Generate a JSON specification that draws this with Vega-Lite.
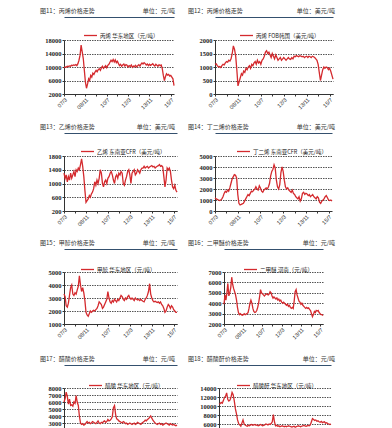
{
"$schema": "https://vega.github.io/schema/vega-lite/v6.json",
"padding": {"left": 40, "top": 8, "right": 0, "bottom": 0},
"background": "white",
"data": {"values": [
{"t":"2007-03-01","a":9800,"b":1100,"c":1300,"d":1200,"e":3300,"f":3900,"g":6000,"h":10400},
{"t":"2007-04-01","a":10000,"b":1120,"c":1150,"d":1100,"e":3100,"f":4800,"g":6500,"h":10500},
{"t":"2007-05-01","a":9900,"b":1050,"c":1250,"d":1050,"e":2400,"f":4300,"g":7400,"h":10800},
{"t":"2007-06-01","a":10200,"b":1000,"c":1050,"d":1000,"e":2300,"f":5000,"g":6800,"h":10600},
{"t":"2007-07-01","a":10100,"b":1020,"c":1200,"d":950,"e":2600,"f":5900,"g":5700,"h":11200},
{"t":"2007-08-01","a":10300,"b":980,"c":1100,"d":1000,"e":3200,"f":4700,"g":6400,"h":11900},
{"t":"2007-09-01","a":10200,"b":1050,"c":1300,"d":1100,"e":3800,"f":5000,"g":5500,"h":12200},
{"t":"2007-10-01","a":10500,"b":1100,"c":1150,"d":1300,"e":4000,"f":5500,"g":5600,"h":12900},
{"t":"2007-11-01","a":10400,"b":1080,"c":1250,"d":1600,"e":3300,"f":6500,"g":5400,"h":11500},
{"t":"2007-12-01","a":10600,"b":1150,"c":1350,"d":1800,"e":3200,"f":5800,"g":6000,"h":11100},
{"t":"2008-01-01","a":10500,"b":1200,"c":1200,"d":1700,"e":3400,"f":5400,"g":5800,"h":11300},
{"t":"2008-02-01","a":10700,"b":1180,"c":1400,"d":1900,"e":3300,"f":5100,"g":6900,"h":12000},
{"t":"2008-03-01","a":10400,"b":1250,"c":1350,"d":1800,"e":3600,"f":4800,"g":6000,"h":13000},
{"t":"2008-04-01","a":11000,"b":1220,"c":1450,"d":2100,"e":3900,"f":4300,"g":5500,"h":12500},
{"t":"2008-05-01","a":12000,"b":1300,"c":1400,"d":2500,"e":4700,"f":3600,"g":4000,"h":11200},
{"t":"2008-06-01","a":13500,"b":1500,"c":1550,"d":2900,"e":4000,"f":3100,"g":3000,"h":9400},
{"t":"2008-07-01","a":16500,"b":1780,"c":1720,"d":3100,"e":3500,"f":2900,"g":2800,"h":8300},
{"t":"2008-08-01","a":14500,"b":1650,"c":1500,"d":3300,"e":3800,"f":3000,"g":2900,"h":6900},
{"t":"2008-09-01","a":12500,"b":1400,"c":1200,"d":3250,"e":3400,"f":2900,"g":2700,"h":6100},
{"t":"2008-10-01","a":9000,"b":900,"c":800,"d":3000,"e":2800,"f":2850,"g":2800,"h":5800},
{"t":"2008-11-01","a":5500,"b":300,"c":450,"d":1500,"e":1900,"f":2900,"g":3000,"h":5500},
{"t":"2008-12-01","a":3700,"b":450,"c":500,"d":700,"e":1700,"f":3000,"g":3200,"h":6200},
{"t":"2009-01-01","a":5000,"b":600,"c":550,"d":550,"e":1600,"f":2900,"g":3000,"h":6900},
{"t":"2009-02-01","a":6500,"b":750,"c":650,"d":600,"e":1800,"f":2950,"g":3100,"h":6000},
{"t":"2009-03-01","a":6000,"b":700,"c":600,"d":650,"e":2000,"f":3000,"g":2900,"h":5800},
{"t":"2009-04-01","a":7500,"b":850,"c":700,"d":700,"e":1900,"f":3100,"g":3000,"h":5600},
{"t":"2009-05-01","a":7000,"b":800,"c":750,"d":900,"e":2000,"f":3500,"g":3200,"h":5500},
{"t":"2009-06-01","a":8200,"b":950,"c":850,"d":1100,"e":2050,"f":4000,"g":3100,"h":5700},
{"t":"2009-07-01","a":7800,"b":900,"c":1050,"d":1300,"e":2000,"f":4300,"g":3000,"h":5600},
{"t":"2009-08-01","a":8500,"b":1000,"c":950,"d":1500,"e":2100,"f":4000,"g":2900,"h":5800},
{"t":"2009-09-01","a":9000,"b":1050,"c":1100,"d":1400,"e":2200,"f":3500,"g":3100,"h":5900},
{"t":"2009-10-01","a":8600,"b":950,"c":1000,"d":1600,"e":2400,"f":3200,"g":3300,"h":5700},
{"t":"2009-11-01","a":9200,"b":1100,"c":1150,"d":1800,"e":2700,"f":3100,"g":3000,"h":5800},
{"t":"2009-12-01","a":9500,"b":1050,"c":1400,"d":1750,"e":2600,"f":3150,"g":2900,"h":5900},
{"t":"2010-01-01","a":9000,"b":1150,"c":1300,"d":1900,"e":2500,"f":3300,"g":3100,"h":5700},
{"t":"2010-02-01","a":9800,"b":1200,"c":1000,"d":2000,"e":2200,"f":3600,"g":3000,"h":5800},
{"t":"2010-03-01","a":10200,"b":1100,"c":900,"d":2200,"e":2300,"f":4000,"g":3200,"h":5600},
{"t":"2010-04-01","a":9600,"b":1250,"c":1050,"d":2000,"e":2500,"f":4600,"g":3300,"h":5700},
{"t":"2010-05-01","a":10000,"b":1150,"c":1100,"d":1900,"e":2700,"f":5300,"g":3100,"h":5900},
{"t":"2010-06-01","a":10400,"b":1200,"c":1000,"d":2300,"e":2900,"f":5000,"g":3200,"h":5800},
{"t":"2010-07-01","a":9800,"b":1100,"c":1150,"d":2100,"e":3500,"f":4900,"g":3500,"h":5600},
{"t":"2010-08-01","a":10500,"b":1250,"c":1200,"d":1800,"e":3000,"f":4800,"g":3300,"h":5700},
{"t":"2010-09-01","a":10800,"b":1300,"c":1300,"d":1700,"e":2700,"f":4700,"g":3400,"h":5800},
{"t":"2010-10-01","a":11400,"b":1400,"c":1350,"d":1900,"e":2600,"f":4800,"g":3600,"h":6000},
{"t":"2010-11-01","a":12000,"b":1550,"c":1250,"d":2000,"e":2800,"f":4900,"g":3900,"h":5900},
{"t":"2010-12-01","a":11600,"b":1600,"c":1100,"d":2100,"e":2700,"f":4850,"g":5200,"h":5800},
{"t":"2011-01-01","a":12200,"b":1500,"c":1000,"d":2000,"e":2900,"f":4800,"g":5500,"h":6000},
{"t":"2011-02-01","a":11500,"b":1550,"c":1200,"d":2200,"e":2800,"f":4900,"g":4200,"h":5900},
{"t":"2011-03-01","a":12100,"b":1450,"c":1250,"d":2500,"e":2700,"f":5100,"g":3600,"h":6100},
{"t":"2011-04-01","a":11300,"b":1350,"c":1150,"d":3200,"e":2900,"f":5000,"g":3500,"h":6500},
{"t":"2011-05-01","a":11700,"b":1500,"c":1300,"d":3600,"e":2800,"f":4700,"g":3300,"h":8100},
{"t":"2011-06-01","a":11000,"b":1400,"c":1250,"d":3800,"e":3000,"f":4500,"g":3200,"h":6500},
{"t":"2011-07-01","a":10400,"b":1300,"c":1350,"d":4200,"e":3200,"f":4600,"g":3100,"h":5600},
{"t":"2011-08-01","a":10800,"b":1450,"c":1300,"d":3900,"e":3100,"f":4500,"g":3000,"h":5700},
{"t":"2011-09-01","a":10200,"b":1350,"c":1000,"d":2800,"e":2900,"f":4400,"g":3200,"h":5500},
{"t":"2011-10-01","a":10600,"b":1250,"c":950,"d":2200,"e":2800,"f":4500,"g":3100,"h":5600},
{"t":"2011-11-01","a":10900,"b":1300,"c":1100,"d":2000,"e":3000,"f":4300,"g":2900,"h":5400},
{"t":"2011-12-01","a":10300,"b":1350,"c":1200,"d":2400,"e":2900,"f":4400,"g":3000,"h":5500},
{"t":"2012-01-01","a":10700,"b":1250,"c":1350,"d":3500,"e":3100,"f":4200,"g":2800,"h":5600},
{"t":"2012-02-01","a":10500,"b":1300,"c":1400,"d":4000,"e":3200,"f":4300,"g":2900,"h":5500},
{"t":"2012-03-01","a":10000,"b":1350,"c":1250,"d":3600,"e":3000,"f":4100,"g":3000,"h":5400},
{"t":"2012-04-01","a":10400,"b":1300,"c":1000,"d":2800,"e":2900,"f":4000,"g":2900,"h":5500},
{"t":"2012-05-01","a":10200,"b":1250,"c":1300,"d":2200,"e":3000,"f":4100,"g":2800,"h":5400},
{"t":"2012-06-01","a":10600,"b":1300,"c":1350,"d":2000,"e":2900,"f":4000,"g":2900,"h":5500},
{"t":"2012-07-01","a":9900,"b":1350,"c":1400,"d":2100,"e":2800,"f":3900,"g":3000,"h":5600},
{"t":"2012-08-01","a":10300,"b":1300,"c":1250,"d":1900,"e":3000,"f":3800,"g":2800,"h":5500},
{"t":"2012-09-01","a":10100,"b":1280,"c":1300,"d":1800,"e":2900,"f":3900,"g":2900,"h":5400},
{"t":"2012-10-01","a":10500,"b":1350,"c":1400,"d":1700,"e":2850,"f":3700,"g":3100,"h":5300},
{"t":"2012-11-01","a":10000,"b":1300,"c":1350,"d":1900,"e":2900,"f":3800,"g":3000,"h":5400},
{"t":"2012-12-01","a":10400,"b":1400,"c":1300,"d":1600,"e":2800,"f":3600,"g":2900,"h":5500},
{"t":"2013-01-01","a":10700,"b":1380,"c":1400,"d":1500,"e":2900,"f":3500,"g":2800,"h":5300},
{"t":"2013-02-01","a":10300,"b":1420,"c":1450,"d":1300,"e":2800,"f":3600,"g":3000,"h":5400},
{"t":"2013-03-01","a":10800,"b":1400,"c":1450,"d":1200,"e":2750,"f":3500,"g":3100,"h":5500},
{"t":"2013-04-01","a":11200,"b":1380,"c":1500,"d":1100,"e":2700,"f":4200,"g":3200,"h":5600},
{"t":"2013-05-01","a":10900,"b":1420,"c":1450,"d":1300,"e":2900,"f":5100,"g":3400,"h":5500},
{"t":"2013-06-01","a":11300,"b":1400,"c":1480,"d":900,"e":3000,"f":5300,"g":3300,"h":5400},
{"t":"2013-07-01","a":11000,"b":1380,"c":1500,"d":1100,"e":3200,"f":4800,"g":3500,"h":5500},
{"t":"2013-08-01","a":10600,"b":1400,"c":1450,"d":1600,"e":3500,"f":4500,"g":3600,"h":5600},
{"t":"2013-09-01","a":10900,"b":1350,"c":1480,"d":1700,"e":4100,"f":4200,"g":3800,"h":5700},
{"t":"2013-10-01","a":10400,"b":1380,"c":1500,"d":1500,"e":3300,"f":4100,"g":4000,"h":5600},
{"t":"2013-11-01","a":10800,"b":1400,"c":1520,"d":1600,"e":3000,"f":3900,"g":3700,"h":5500},
{"t":"2013-12-01","a":10500,"b":1350,"c":1480,"d":1550,"e":2800,"f":4000,"g":3400,"h":5600},
{"t":"2014-01-01","a":10700,"b":1400,"c":1500,"d":1400,"e":2700,"f":3800,"g":3200,"h":5700},
{"t":"2014-02-01","a":11000,"b":1380,"c":1450,"d":1500,"e":2750,"f":3700,"g":3000,"h":5600},
{"t":"2014-03-01","a":10600,"b":1350,"c":1480,"d":1300,"e":2700,"f":3600,"g":2900,"h":5800},
{"t":"2014-04-01","a":10300,"b":1400,"c":1500,"d":1400,"e":2650,"f":3500,"g":2800,"h":6500},
{"t":"2014-05-01","a":10800,"b":1380,"c":1520,"d":1500,"e":2700,"f":3600,"g":2900,"h":7200},
{"t":"2014-06-01","a":10500,"b":1350,"c":1550,"d":1300,"e":2600,"f":3500,"g":3000,"h":7000},
{"t":"2014-07-01","a":10200,"b":1300,"c":1500,"d":1200,"e":2700,"f":3550,"g":2800,"h":6800},
{"t":"2014-08-01","a":10700,"b":1250,"c":1520,"d":1100,"e":2500,"f":3400,"g":2900,"h":6900},
{"t":"2014-09-01","a":10400,"b":1100,"c":1480,"d":1300,"e":2400,"f":3300,"g":2700,"h":6600},
{"t":"2014-10-01","a":10600,"b":800,"c":1200,"d":1200,"e":2200,"f":3000,"g":2800,"h":6700},
{"t":"2014-11-01","a":9500,"b":500,"c":900,"d":800,"e":1900,"f":2700,"g":2900,"h":6500},
{"t":"2014-12-01","a":7500,"b":700,"c":1100,"d":700,"e":2000,"f":2900,"g":3000,"h":6400},
{"t":"2015-01-01","a":6000,"b":900,"c":1450,"d":900,"e":2300,"f":3200,"g":2900,"h":6600},
{"t":"2015-02-01","a":7200,"b":1000,"c":1400,"d":1000,"e":2500,"f":3100,"g":2800,"h":6300},
{"t":"2015-03-01","a":8000,"b":950,"c":1450,"d":1100,"e":2400,"f":3300,"g":2700,"h":6400},
{"t":"2015-04-01","a":7600,"b":1000,"c":1350,"d":1300,"e":2200,"f":3250,"g":2900,"h":6500},
{"t":"2015-05-01","a":7800,"b":980,"c":1100,"d":1400,"e":2400,"f":3300,"g":2800,"h":6200},
{"t":"2015-06-01","a":7300,"b":900,"c":900,"d":1200,"e":2300,"f":3100,"g":2700,"h":6300},
{"t":"2015-07-01","a":7500,"b":950,"c":850,"d":1000,"e":2100,"f":3000,"g":2800,"h":6100},
{"t":"2015-08-01","a":7000,"b":850,"c":950,"d":950,"e":2000,"f":2900,"g":2700,"h":6000},
{"t":"2015-09-01","a":6500,"b":700,"c":800,"d":1000,"e":1900,"f":2900,"g":2600,"h":5900},
{"t":"2015-10-01","a":4500,"b":550,"c":750,"d":900,"e":1900,"f":2800,"g":2700,"h":6000}
]},
"vconcat": [
{"hconcat": [
 {"width": 110, "height": 54,
  "title": {"text": "图11：丙烯价格走势　　　　　　　　单位：元/吨", "dx": -24},
  "layer": [
   {"mark": "line",
    "encoding": {
     "x": {"field": "t", "type": "temporal", "axis": {"values": [{"year":2007,"month":3,"date":1},{"year":2008,"month":1,"date":1},{"year":2008,"month":11,"date":1},{"year":2009,"month":9,"date":1},{"year":2010,"month":7,"date":1},{"year":2011,"month":5,"date":1},{"year":2012,"month":3,"date":1},{"year":2013,"month":1,"date":1},{"year":2013,"month":11,"date":1},{"year":2014,"month":9,"date":1},{"year":2015,"month":7,"date":1}]}},
     "y": {"field": "a", "type": "quantitative", "scale": {"domain": [2000, 18000]}, "axis": {"values": [2000, 6000, 10000, 14000, 18000]}},
     "color": {"datum": "丙烯 华东地区（元/吨）", "scale": {"range": ["#d42a2e"]}, "legend": {"orient": "none", "legendX": 19, "legendY": -12}}
    }},
   {"mark": {"type": "rule", "opacity": 0},
    "encoding": {"x": {"field": "t", "type": "temporal", "axis": {"orient": "top", "offset": 23, "labels": false, "ticks": false, "domainColor": "#34506e", "domainWidth": 1}}}}
  ],
  "resolve": {"axis": {"x": "independent"}}},
 {"width": 118, "height": 54,
  "title": {"text": "图12：丙烯价格走势　　　　　　　　　单位：美元/吨", "dx": -27},
  "layer": [
   {"mark": "line",
    "encoding": {
     "x": {"field": "t", "type": "temporal", "axis": {"values": [{"year":2007,"month":3,"date":1},{"year":2008,"month":1,"date":1},{"year":2008,"month":11,"date":1},{"year":2009,"month":9,"date":1},{"year":2010,"month":7,"date":1},{"year":2011,"month":5,"date":1},{"year":2012,"month":3,"date":1},{"year":2013,"month":1,"date":1},{"year":2013,"month":11,"date":1},{"year":2014,"month":9,"date":1},{"year":2015,"month":7,"date":1}]}},
     "y": {"field": "b", "type": "quantitative", "scale": {"domain": [0, 2000]}, "axis": {"values": [0, 500, 1000, 1500, 2000]}},
     "color": {"datum": "丙烯 FOB韩国（美元/吨）", "scale": {"range": ["#d42a2e"]}, "legend": {"orient": "none", "legendX": 24, "legendY": -12}}
    }},
   {"mark": {"type": "rule", "opacity": 0},
    "encoding": {"x": {"field": "t", "type": "temporal", "axis": {"orient": "top", "offset": 23, "labels": false, "ticks": false, "domainColor": "#34506e", "domainWidth": 1}}}}
  ],
  "resolve": {"axis": {"x": "independent"}}}
 ], "spacing": 41, "bounds": "flush", "resolve": {"scale": {"color": "independent"}, "legend": {"color": "independent"}}},
{"hconcat": [
 {"width": 113, "height": 55,
  "title": {"text": "图13：乙烯价格走势　　　　　　　单位：美元/吨", "dx": -24},
  "layer": [
   {"mark": "line",
    "encoding": {
     "x": {"field": "t", "type": "temporal", "axis": {"values": [{"year":2007,"month":3,"date":1},{"year":2008,"month":1,"date":1},{"year":2008,"month":11,"date":1},{"year":2009,"month":9,"date":1},{"year":2010,"month":7,"date":1},{"year":2011,"month":5,"date":1},{"year":2012,"month":3,"date":1},{"year":2013,"month":1,"date":1},{"year":2013,"month":11,"date":1},{"year":2014,"month":9,"date":1},{"year":2015,"month":7,"date":1}]}},
     "y": {"field": "c", "type": "quantitative", "scale": {"domain": [200, 1800]}, "axis": {"values": [200, 600, 1000, 1400, 1800]}},
     "color": {"datum": "乙烯 东南亚CFR（美元/吨）", "scale": {"range": ["#d42a2e"]}, "legend": {"orient": "none", "legendX": 16, "legendY": -12}}
    }},
   {"mark": {"type": "rule", "opacity": 0},
    "encoding": {"x": {"field": "t", "type": "temporal", "axis": {"orient": "top", "offset": 23, "labels": false, "ticks": false, "domainColor": "#34506e", "domainWidth": 1}}}}
  ],
  "resolve": {"axis": {"x": "independent"}}},
 {"width": 117, "height": 55,
  "title": {"text": "图14：丁二烯价格走势　　　　　　　　单位：美元/吨", "dx": -27},
  "layer": [
   {"mark": "line",
    "encoding": {
     "x": {"field": "t", "type": "temporal", "axis": {"values": [{"year":2007,"month":3,"date":1},{"year":2008,"month":1,"date":1},{"year":2008,"month":11,"date":1},{"year":2009,"month":9,"date":1},{"year":2010,"month":7,"date":1},{"year":2011,"month":5,"date":1},{"year":2012,"month":3,"date":1},{"year":2013,"month":1,"date":1},{"year":2013,"month":11,"date":1},{"year":2014,"month":9,"date":1},{"year":2015,"month":7,"date":1}]}},
     "y": {"field": "d", "type": "quantitative", "scale": {"domain": [0, 5000]}, "axis": {"values": [0, 1000, 2000, 3000, 4000, 5000]}},
     "color": {"datum": "丁二烯 东南亚CFR（美元/吨）", "scale": {"range": ["#d42a2e"]}, "legend": {"orient": "none", "legendX": 21, "legendY": -12}}
    }},
   {"mark": {"type": "rule", "opacity": 0},
    "encoding": {"x": {"field": "t", "type": "temporal", "axis": {"orient": "top", "offset": 23, "labels": false, "ticks": false, "domainColor": "#34506e", "domainWidth": 1}}}}
  ],
  "resolve": {"axis": {"x": "independent"}}}
 ], "spacing": 38, "bounds": "flush", "resolve": {"scale": {"color": "independent"}, "legend": {"color": "independent"}}},
{"hconcat": [
 {"width": 113, "height": 52,
  "title": {"text": "图15：甲醇价格走势　　　　　　　　单位：元/吨", "dx": -24},
  "layer": [
   {"mark": "line",
    "encoding": {
     "x": {"field": "t", "type": "temporal", "axis": {"values": [{"year":2007,"month":3,"date":1},{"year":2008,"month":1,"date":1},{"year":2008,"month":11,"date":1},{"year":2009,"month":9,"date":1},{"year":2010,"month":7,"date":1},{"year":2011,"month":5,"date":1},{"year":2012,"month":3,"date":1},{"year":2013,"month":1,"date":1},{"year":2013,"month":11,"date":1},{"year":2014,"month":9,"date":1},{"year":2015,"month":7,"date":1}]}},
     "y": {"field": "e", "type": "quantitative", "scale": {"domain": [1000, 5000]}, "axis": {"values": [1000, 2000, 3000, 4000, 5000]}},
     "color": {"datum": "甲醇 华东地区（元/吨）", "scale": {"range": ["#d42a2e"]}, "legend": {"orient": "none", "legendX": 16, "legendY": -10}}
    }},
   {"mark": {"type": "rule", "opacity": 0},
    "encoding": {"x": {"field": "t", "type": "temporal", "axis": {"orient": "top", "offset": 23, "labels": false, "ticks": false, "domainColor": "#34506e", "domainWidth": 1}}}}
  ],
  "resolve": {"axis": {"x": "independent"}}},
 {"width": 99, "height": 52,
  "title": {"text": "图16：二甲醚价格走势　　　　　　　　　单位：元/吨", "dx": -36},
  "layer": [
   {"mark": "line",
    "encoding": {
     "x": {"field": "t", "type": "temporal", "axis": {"values": [{"year":2007,"month":3,"date":1},{"year":2008,"month":1,"date":1},{"year":2008,"month":11,"date":1},{"year":2009,"month":9,"date":1},{"year":2010,"month":7,"date":1},{"year":2011,"month":5,"date":1},{"year":2012,"month":3,"date":1},{"year":2013,"month":1,"date":1},{"year":2013,"month":11,"date":1},{"year":2014,"month":9,"date":1},{"year":2015,"month":7,"date":1}]}},
     "y": {"field": "f", "type": "quantitative", "scale": {"domain": [2000, 7000]}, "axis": {"values": [2000, 3000, 4000, 5000, 6000, 7000]}},
     "color": {"datum": "二甲醚 河南（元/吨）", "scale": {"range": ["#d42a2e"]}, "legend": {"orient": "none", "legendX": 19, "legendY": -10}}
    }},
   {"mark": {"type": "rule", "opacity": 0},
    "encoding": {"x": {"field": "t", "type": "temporal", "axis": {"orient": "top", "offset": 23, "labels": false, "ticks": false, "domainColor": "#34506e", "domainWidth": 1}}}}
  ],
  "resolve": {"axis": {"x": "independent"}}}
 ], "spacing": 47, "bounds": "flush", "resolve": {"scale": {"color": "independent"}, "legend": {"color": "independent"}}},
{"hconcat": [
 {"width": 113, "height": 49,
  "title": {"text": "图17：醋酸价格走势　　　　　　　　单位：元/吨", "dx": -24},
  "layer": [
   {"mark": "line",
    "encoding": {
     "x": {"field": "t", "type": "temporal", "axis": {"values": [{"year":2007,"month":3,"date":1},{"year":2008,"month":1,"date":1},{"year":2008,"month":11,"date":1},{"year":2009,"month":9,"date":1},{"year":2010,"month":7,"date":1},{"year":2011,"month":5,"date":1},{"year":2012,"month":3,"date":1},{"year":2013,"month":1,"date":1},{"year":2013,"month":11,"date":1},{"year":2014,"month":9,"date":1},{"year":2015,"month":7,"date":1}]}},
     "y": {"field": "g", "type": "quantitative", "scale": {"domain": [1000, 8000]}, "axis": {"values": [1000, 2000, 3000, 4000, 5000, 6000, 7000, 8000]}},
     "color": {"datum": "醋酸 华东地区（元/吨）", "scale": {"range": ["#d42a2e"]}, "legend": {"orient": "none", "legendX": 24, "legendY": -10}}
    }},
   {"mark": {"type": "rule", "opacity": 0},
    "encoding": {"x": {"field": "t", "type": "temporal", "axis": {"orient": "top", "offset": 23, "labels": false, "ticks": false, "domainColor": "#34506e", "domainWidth": 1}}}}
  ],
  "resolve": {"axis": {"x": "independent"}}},
 {"width": 112, "height": 54,
  "title": {"text": "图18：醋酸酐价格走势　　　　　　　　　单位：元/吨", "dx": -31},
  "layer": [
   {"mark": "line",
    "encoding": {
     "x": {"field": "t", "type": "temporal", "axis": {"values": [{"year":2007,"month":3,"date":1},{"year":2008,"month":1,"date":1},{"year":2008,"month":11,"date":1},{"year":2009,"month":9,"date":1},{"year":2010,"month":7,"date":1},{"year":2011,"month":5,"date":1},{"year":2012,"month":3,"date":1},{"year":2013,"month":1,"date":1},{"year":2013,"month":11,"date":1},{"year":2014,"month":9,"date":1},{"year":2015,"month":7,"date":1}]}},
     "y": {"field": "h", "type": "quantitative", "scale": {"domain": [2000, 14000]}, "axis": {"values": [2000, 4000, 6000, 8000, 10000, 12000, 14000]}},
     "color": {"datum": "醋酸酐 华东地区（元/吨）", "scale": {"range": ["#d42a2e"]}, "legend": {"orient": "none", "legendX": 17, "legendY": -10}}
    }},
   {"mark": {"type": "rule", "opacity": 0},
    "encoding": {"x": {"field": "t", "type": "temporal", "axis": {"orient": "top", "offset": 23, "labels": false, "ticks": false, "domainColor": "#34506e", "domainWidth": 1}}}}
  ],
  "resolve": {"axis": {"x": "independent"}}}
 ], "spacing": 42, "bounds": "flush", "resolve": {"scale": {"color": "independent"}, "legend": {"color": "independent"}}}
],
"spacing": 116,
"bounds": "flush",
"resolve": {"scale": {"color": "independent"}, "legend": {"color": "independent"}},
"config": {
 "font": "Noto Sans CJK SC",
 "view": {"stroke": null},
 "line": {"strokeWidth": 1.3},
 "title": {"fontSize": 6, "fontWeight": "normal", "color": "#333333", "anchor": "start", "frame": "group", "offset": 3},
 "axis": {"title": null, "labelFont": "Liberation Serif", "labelFontWeight": "bold", "labelFontSize": 6.5, "labelColor": "#222222", "domainColor": "#333333", "tickColor": "#333333", "tickSize": 2, "labelPadding": 1, "gridColor": "#555555", "gridDash": [1.5, 1], "gridWidth": 1},
 "axisX": {"grid": false, "labelAngle": -45, "labelFontSize": 5.5, "format": "%y/%-m", "labelFontWeight": "normal", "labelFont": "Liberation Sans"},
 "axisY": {"grid": true, "format": "d"},
 "legend": {"title": null, "labelFontSize": 5.5, "labelColor": "#222222", "symbolType": "stroke", "symbolSize": 169, "symbolStrokeWidth": 1.6, "padding": 0, "labelLimit": 200, "labelOffset": 2}
}
}
